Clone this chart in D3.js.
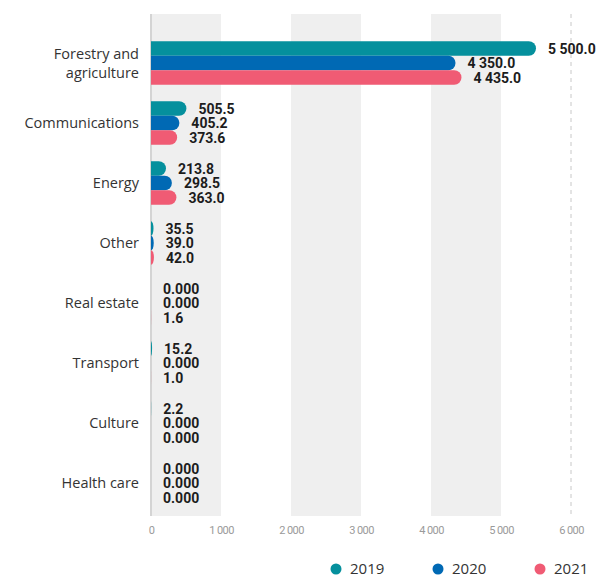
<!DOCTYPE html>
<html>
<head>
<meta charset="utf-8">
<script src="https://cdn.jsdelivr.net/npm/d3@7"></script>
<style>
  html, body { margin: 0; padding: 0; background: #fff; }
  svg { display: block; }
</style>
</head>
<body>
<svg id="chart" width="598" height="580"></svg>
<script>
const categories = [
  ["Forestry and", "agriculture"],
  ["Communications"],
  ["Energy"],
  ["Other"],
  ["Real estate"],
  ["Transport"],
  ["Culture"],
  ["Health care"]
];
const seriesNames = ["2019", "2020", "2021"];
const values2019 = [5500.0, 505.5, 213.8, 35.5, 0, 15.2, 2.2, 0];
const values2020 = [4350.0, 405.2, 298.5, 39.0, 0, 0, 0, 0];
const values2021 = [4435.0, 373.6, 363.0, 42.0, 1.6, 1.0, 0, 0];
const xTicks = [0, 1000, 2000, 3000, 4000, 5000, 6000];
const colors = ["#05909d", "#0069b4", "#f05b74"];

const seriesValues = [values2019, values2020, values2021];
const catKeys = categories.map(c => c.join(" "));

const svg = d3.select("#chart");
const plotTop = 14, plotBottom = 516;

const x = d3.scaleLinear().domain([0, 6000]).range([151, 571]);
const y = d3.scaleBand().domain(catKeys).range([33, 513]).padding(0);
const barH = 14.5;
const y1 = d3.scaleBand().domain(seriesNames)
  .range([(y.bandwidth() - 3 * barH) / 2, (y.bandwidth() + 3 * barH) / 2]).padding(0);

const loc = d3.formatLocale({decimal: ".", thousands: " ", grouping: [3], currency: ["", ""]});
const fmtVal = v => v === 0 ? "0.000" : loc.format(",.1f")(v);
const fmtTick = loc.format(",d");

// alternating bands
const bandPairs = d3.range(0, xTicks.length - 1, 2).map(i => [xTicks[i], xTicks[i + 1]]);
svg.append("g").selectAll("rect").data(bandPairs).join("rect")
  .attr("x", d => x(d[0]))
  .attr("y", plotTop)
  .attr("width", d => x(d[1]) - x(d[0]))
  .attr("height", plotBottom - plotTop)
  .attr("fill", "#efefef");

// dashed line at last tick
svg.append("line")
  .attr("x1", x(6000)).attr("x2", x(6000))
  .attr("y1", plotTop).attr("y2", plotBottom)
  .attr("stroke", "#c8c8c8").attr("stroke-width", 1)
  .attr("stroke-dasharray", "4,4");

// axis line
svg.append("line")
  .attr("x1", x(0)).attr("x2", x(0))
  .attr("y1", plotTop).attr("y2", plotBottom)
  .attr("stroke", "#d4d4d4").attr("stroke-width", 2);

// x axis
const xAxis = d3.axisBottom(x).tickValues(xTicks).tickSize(0).tickPadding(0).tickFormat(fmtTick);
const gx = svg.append("g").attr("transform", `translate(0, ${plotBottom + 10})`).call(xAxis);
gx.select(".domain").remove();
gx.selectAll("text")
  .attr("font-family", "Roboto, sans-serif")
  .attr("font-size", 11)
  .attr("letter-spacing", "-0.6")
  .attr("fill", "#9a9a9a")
  .attr("dy", "0.71em");

// bars
function barPath(x0, w, yTop, h) {
  if (w <= 0) return "";
  const ry = h / 2;
  const rx = Math.min(w, ry);
  return `M${x0},${yTop} L${x0 + w - rx},${yTop} A${rx},${ry} 0 0 1 ${x0 + w - rx},${yTop + h} L${x0},${yTop + h} Z`;
}

const rows = [];
catKeys.forEach((c, i) => {
  seriesNames.forEach((s, j) => {
    rows.push({cat: c, series: s, value: seriesValues[j][i], color: colors[j]});
  });
});

svg.append("g").selectAll("path").data(rows).join("path")
  .attr("d", d => barPath(x(0), x(d.value) - x(0), y(d.cat) + y1(d.series), y1.bandwidth()))
  .attr("fill", d => d.color);

// value labels
svg.append("g").selectAll("text").data(rows).join("text")
  .attr("x", d => x(d.value) + 12)
  .attr("y", d => y(d.cat) + y1(d.series) + y1.bandwidth() / 2)
  .attr("dy", "0.36em")
  .attr("font-family", "Roboto, sans-serif")
  .attr("font-weight", "bold")
  .attr("font-size", 14)
  .attr("fill", "#1c1c1c")
  .text(d => fmtVal(d.value));

// category labels
const catG = svg.append("g");
categories.forEach((lines, i) => {
  const cy = y(catKeys[i]) + y.bandwidth() / 2;
  const t = catG.append("text")
    .attr("x", 139)
    .attr("text-anchor", "end")
    .attr("font-family", "'Open Sans', sans-serif")
    .attr("font-size", 14.5)
    .attr("fill", "#333");
  const n = lines.length;
  lines.forEach((ln, k) => {
    t.append("tspan")
      .attr("x", 139)
      .attr("y", cy + (k - (n - 1) / 2) * 19)
      .attr("dy", "0.35em")
      .text(ln);
  });
});

// legend
const legendX = d3.scalePoint().domain(seriesNames).range([336, 540]);
const lg = svg.append("g");
seriesNames.forEach((s, j) => {
  lg.append("circle")
    .attr("cx", legendX(s)).attr("cy", 569).attr("r", 5.5)
    .attr("fill", colors[j]);
  lg.append("text")
    .attr("x", legendX(s) + 14).attr("y", 569).attr("dy", "0.36em")
    .attr("font-family", "'Open Sans', sans-serif")
    .attr("font-size", 15)
    .attr("fill", "#333")
    .text(s);
});
</script>
</body>
</html>
